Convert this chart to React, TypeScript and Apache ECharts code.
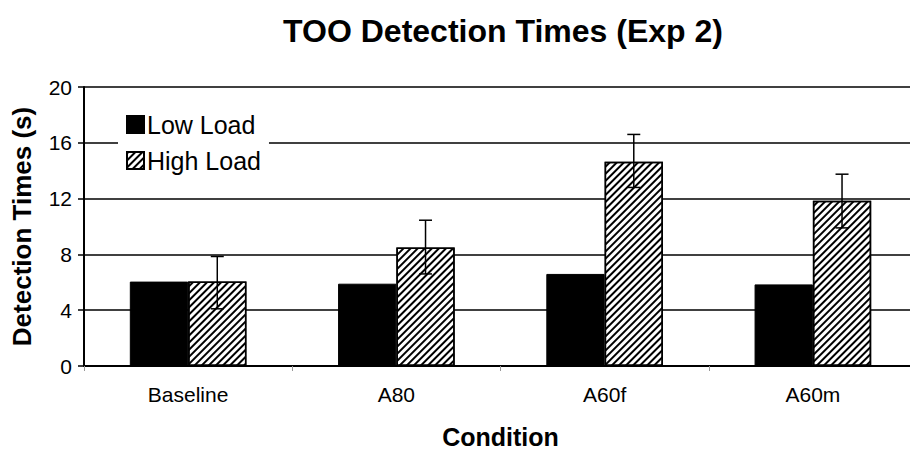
import React, { useEffect, useRef } from "react";
import * as echarts from "echarts";

const categories = ["Baseline", "A80", "A60f", "A60m"];
const lowLoad = [6.05, 5.9, 6.6, 5.85];
const highLoad = [6.05, 8.5, 14.65, 11.85];
const highErrUpper = [7.85, 10.45, 16.6, 13.75];
const highErrLower = [4.1, 6.6, 12.8, 9.9];
const yTicks = [0, 4, 8, 12, 16, 20];

const FONT = "'Liberation Sans', Arial, Helvetica, sans-serif";
const BAR_PCT = 0.28;

export default function App() {
  const ref = useRef<HTMLDivElement>(null);
  useEffect(() => {
    if (!ref.current) return;
    const chart = echarts.init(ref.current, undefined, { renderer: "svg" });
    const errData = categories.map((c, i) => [i, highErrLower[i], highErrUpper[i]]);
    chart.setOption({
      animation: false,
      backgroundColor: "#fff",
      textStyle: { fontFamily: FONT, color: "#000" },
      title: {
        text: "TOO Detection Times (Exp 2)",
        left: 498,
        textAlign: "center",
        top: 10,
        textStyle: { fontFamily: FONT, fontSize: 32, fontWeight: "bold", color: "#000" },
      },
      legend: {
        orient: "vertical",
        left: 118,
        top: 100,
        padding: [12, 8, 10, 8],
        backgroundColor: "#fff",
        itemWidth: 17,
        itemHeight: 17,
        itemGap: 11,
        icon: "rect",
        textStyle: { fontFamily: FONT, fontSize: 25, color: "#000", padding: [0, 0, 0, -2] },
        data: ["Low Load", "High Load"],
      },
      grid: { left: 84, top: 87, width: 833, height: 279, containLabel: false, outerBoundsMode: "none" },
      xAxis: {
        type: "category",
        data: categories,
        name: "Condition",
        nameLocation: "middle",
        nameGap: 58,
        nameTextStyle: { fontFamily: FONT, fontSize: 25, fontWeight: "bold", color: "#000" },
        axisLine: { lineStyle: { color: "#000", width: 2 } },
        axisTick: { show: true, length: 5, lineStyle: { color: "#999", width: 1 } },
        axisLabel: { fontFamily: FONT, fontSize: 21, color: "#000", margin: 18 },
      },
      yAxis: {
        type: "value",
        min: yTicks[0],
        max: yTicks[yTicks.length - 1],
        interval: 4,
        name: "Detection Times (s)",
        nameLocation: "middle",
        nameGap: 49,
        nameTextStyle: { fontFamily: FONT, fontSize: 26, fontWeight: "bold", color: "#000" },
        axisLine: { show: true, lineStyle: { color: "#000", width: 2 } },
        axisTick: { show: true, length: 6, lineStyle: { color: "#000", width: 1.5 } },
        axisLabel: { fontFamily: FONT, fontSize: 21, color: "#000", margin: 12 },
        splitLine: { show: true, lineStyle: { color: "#000", width: 1.5 } },
      },
      series: [
        {
          name: "Low Load",
          type: "bar",
          data: lowLoad,
          barWidth: BAR_PCT * 100 + "%",
          barGap: "0%",
          itemStyle: { color: "#000", borderColor: "#000", borderWidth: 1 },
        },
        {
          name: "High Load",
          type: "bar",
          data: highLoad,
          barWidth: BAR_PCT * 100 + "%",
          barGap: "0%",
          itemStyle: {
            color: "#fff",
            borderColor: "#000",
            borderWidth: 1.5,
            decal: {
              symbol: "rect",
              color: "#000",
              backgroundColor: "#fff",
              dashArrayX: [1, 0],
              dashArrayY: [2, 3],
              rotation: -Math.PI / 4,
              symbolSize: 1,
            },
          },
        },
        {
          name: "err",
          type: "custom",
          data: errData,
          z: 10,
          renderItem: (params: any, api: any) => {
            const idx = api.value(0);
            const lo = api.coord([idx, api.value(1)]);
            const hi = api.coord([idx, api.value(2)]);
            const band = api.size([1, 0])[0];
            const x = lo[0] + band * BAR_PCT / 2;
            const cap = 6.5;
            const st = { stroke: "#000", lineWidth: 1.5 };
            return {
              type: "group",
              children: [
                { type: "line", shape: { x1: x, y1: hi[1], x2: x, y2: lo[1] }, style: st },
                { type: "line", shape: { x1: x - cap, y1: hi[1], x2: x + cap, y2: hi[1] }, style: st },
                { type: "line", shape: { x1: x - cap, y1: lo[1], x2: x + cap, y2: lo[1] }, style: st },
              ],
            };
          },
        },
      ],
    });
    return () => chart.dispose();
  }, []);
  return (
    <div
      ref={ref}
      style={{ position: "fixed", left: 0, top: 0, width: 910, height: 449, background: "#fff" }}
    />
  );
}
